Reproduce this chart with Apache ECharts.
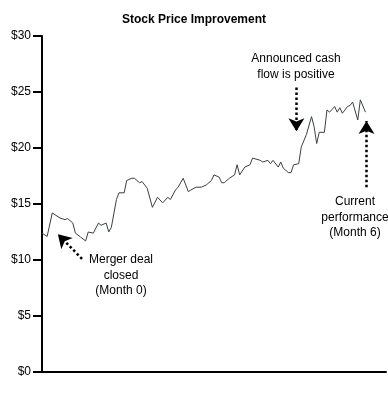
<!DOCTYPE html>
<html>
<head>
<meta charset="utf-8">
<script src="https://cdn.jsdelivr.net/npm/echarts@6/dist/echarts.min.js"></script>
<style>html,body{margin:0;padding:0;background:#fff}#c{width:388px;height:400px}</style>
</head>
<body>
<div id="c"></div>
<script>
const title = 'Stock Price Improvement';
const yTicks = [0, 5, 10, 15, 20, 25, 30];
const days = [0,2,4,7,9,10,12,13,15,17,18,20,22,23,25,26,27,29,30,32,33,35,36,38,39,41,43,45,47,49,50,52,53,55,57,58,60,62,64,66,67,69,70,71,73,75,76,77,79,81,82,85,86,88,89,90,92,93,94,96,97,98,100,101,103,105,106,107,108,110,111,112,114,115,116,117,119,120,121,123,124,126];
const prices = [12.4,12.1,14.2,13.75,13.6,13.7,13.3,12.4,12.05,11.7,12.5,12.4,13.3,13.1,13.3,12.5,12.9,15.4,16.0,16.0,17.1,17.3,17.3,16.9,17.0,16.4,14.7,15.6,15.1,15.6,15.4,16.25,16.5,17.3,16.1,16.25,16.5,16.5,16.7,17.1,17.6,17.4,16.9,16.9,17.3,17.6,18.5,17.6,18.3,18.5,19.1,18.9,18.75,18.9,18.6,18.9,18.3,18.75,18.2,17.8,17.8,18.5,18.6,20.1,21.2,22.8,21.9,20.4,21.4,21.4,23.4,23.2,23.7,23.2,23.6,23.1,23.7,23.8,24.1,22.5,24.3,23.2];
const arrows = [
  [[15.6, 10.1], [6.2, 12.3]],
  [[99.1, 25.4], [99.1, 21.5]],
  [[126.4, 16.5], [126.4, 22.4]]
];
const notes = [
  {lines: ['Merger deal', 'closed', '(Month 0)'], x: 121, y: 252},
  {lines: ['Announced cash', 'flow is positive'], x: 296, y: 51},
  {lines: ['Current', 'performance', '(Month 6)'], x: 355, y: 194}
];

const chart = echarts.init(document.getElementById('c'));
const font = 'Arial, "Liberation Sans", sans-serif';
chart.setOption({
  animation: false,
  title: {text: title, left: 'center', top: 9, textStyle: {fontFamily: font, fontSize: 12, fontWeight: 'bold', color: '#000'}},
  grid: {left: 42, right: 2, top: 36, bottom: 28},
  xAxis: {type: 'value', min: 0, max: 134,
    axisLine: {show: true, lineStyle: {color: '#000', width: 2}},
    axisTick: {show: false}, axisLabel: {show: false}, splitLine: {show: false}},
  yAxis: {type: 'value', min: yTicks[0], max: yTicks[yTicks.length - 1], interval: 5,
    axisLine: {show: true, lineStyle: {color: '#000', width: 2}},
    axisTick: {show: true, length: 9, lineStyle: {color: '#000', width: 2}},
    axisLabel: {show: true, formatter: v => '$' + v, fontFamily: font, fontSize: 12, color: '#000', margin: 11},
    splitLine: {show: false}},
  series: [{
    type: 'line', data: days.map((d, i) => [d, prices[i]]), symbol: 'none',
    lineStyle: {color: '#3a3f45', width: 1},
    markLine: {
      silent: true, animation: false, label: {show: false},
      lineStyle: {color: '#000', type: 'dotted', width: 2.5},
      symbolSize: [12, 13],
      data: arrows.map(a => [{coord: a[0], symbol: 'none'}, {coord: a[1], symbol: 'arrow'}])
    }
  }],
  graphic: notes.map(n => ({
    type: 'text', x: n.x, y: n.y,
    style: {text: n.lines.join('\n'), fontFamily: font, fontSize: 12, lineHeight: 15.5, fill: '#000', align: 'center'}
  }))
});
</script>
</body>
</html>
